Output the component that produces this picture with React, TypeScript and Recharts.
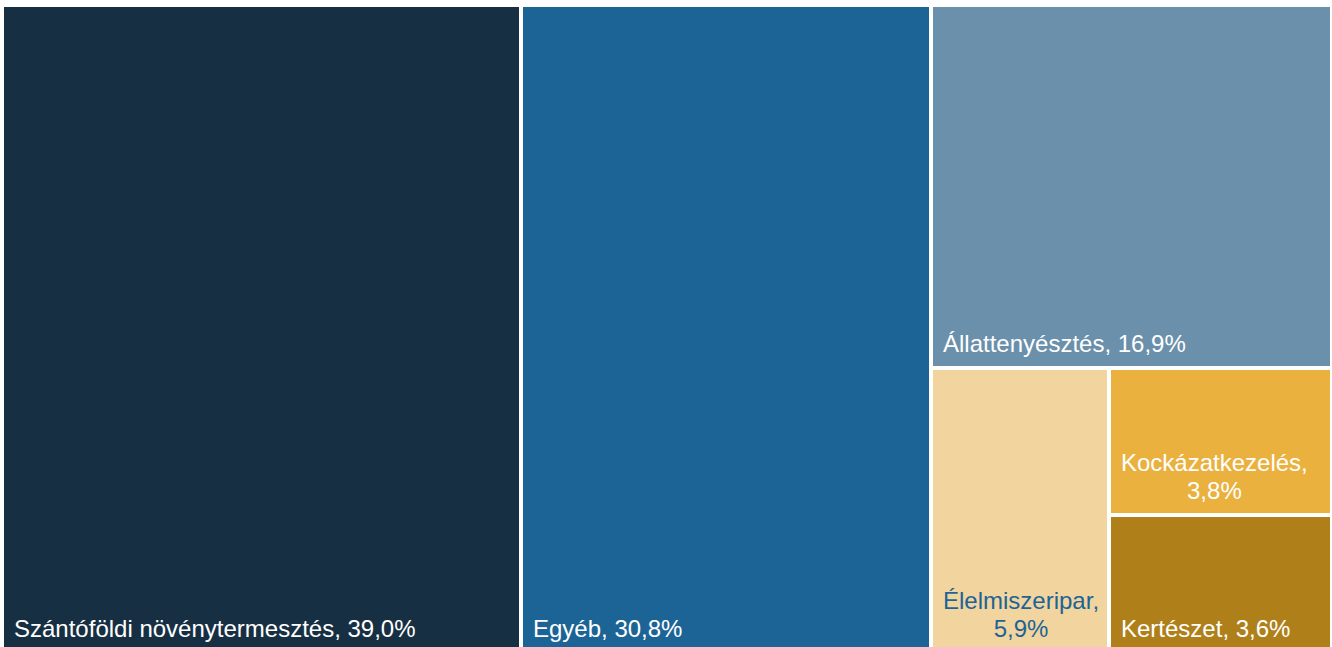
import React from 'react';
import { Treemap } from 'recharts';

const categories = [
  'Szántóföldi növénytermesztés',
  'Egyéb',
  'Állattenyésztés',
  'Élelmiszeripar',
  'Kockázatkezelés',
  'Kertészet',
];
const shares = [39.0, 30.8, 16.9, 5.9, 3.8, 3.6];

const fillColors = ['#172F43', '#1D6496', '#6A90AB', '#F2D49E', '#EAB13F', '#AF7F1A'];
const labelColors = ['#FFFFFF', '#FFFFFF', '#FFFFFF', '#1D6496', '#FFFFFF', '#FFFFFF'];

const chartData = categories.map((name, i) => ({ name, value: shares[i] }));

const FONT_SIZE = 24;
const FONT = '"Liberation Sans", Arial, sans-serif';
const GAP = 2;
const PAD = 10;
const BASE_OFFSET = 14;
const LINE_H = 28;

let ctx: CanvasRenderingContext2D | null = null;
const measure = (text: string) => {
  if (!ctx) {
    ctx = document.createElement('canvas').getContext('2d');
  }
  if (!ctx) return text.length * FONT_SIZE * 0.55;
  ctx.font = `${FONT_SIZE}px ${FONT}`;
  return ctx.measureText(text).width;
};

const fmt = (v: number) => `${v.toFixed(1).replace('.', ',')}%`;

const CellContent: React.FC<any> = (props) => {
  const { x, y, width, height, depth, name, value } = props;
  if (depth !== 1 || width == null) return <g />;
  const idx = categories.indexOf(name);
  const rx = x + GAP;
  const ry = y + GAP;
  const rw = Math.max(0, width - GAP * 2);
  const rh = Math.max(0, height - GAP * 2);
  const color = labelColors[idx] ?? '#fff';
  const full = `${name}, ${fmt(value)}`;
  const bottom = ry + rh - BASE_OFFSET;

  let label: React.ReactNode;
  if (measure(full) <= rw - PAD * 2) {
    label = (
      <text x={rx + PAD} y={bottom} fill={color} fontSize={FONT_SIZE} fontFamily={FONT}>
        {full}
      </text>
    );
  } else {
    // wrap after the comma, lines centred inside the block
    const lines = [`${name},`, fmt(value)];
    const blockW = Math.max(...lines.map(measure));
    const cx = rx + PAD + blockW / 2;
    label = (
      <text fill={color} fontSize={FONT_SIZE} fontFamily={FONT} textAnchor="middle">
        {lines.map((l, i) => (
          <tspan key={i} x={cx} y={bottom - (lines.length - 1 - i) * LINE_H}>
            {l}
          </tspan>
        ))}
      </text>
    );
  }

  return (
    <g>
      <rect x={rx} y={ry} width={rw} height={rh} fill={fillColors[idx]} stroke="none" />
      {label}
    </g>
  );
};

export default function App() {
  return (
    <div style={{ position: 'absolute', left: 2, top: 5, width: 1330, height: 648 }}>
      <Treemap
        width={1330}
        height={648}
        data={chartData}
        dataKey="value"
        aspectRatio={1}
        isAnimationActive={false}
        content={<CellContent />}
      />
    </div>
  );
}
